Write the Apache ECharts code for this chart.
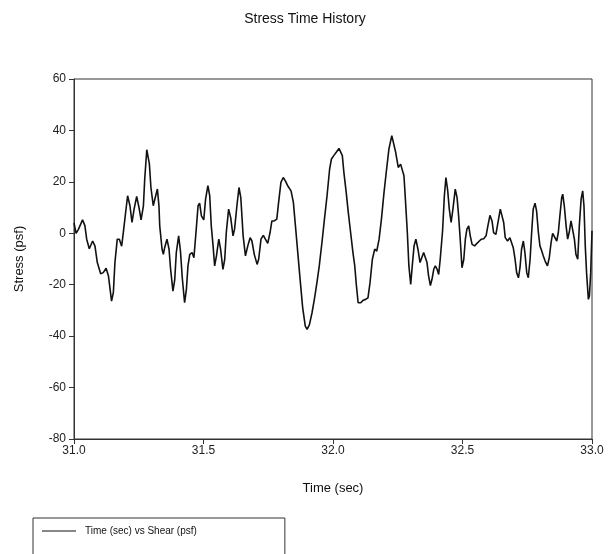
<!DOCTYPE html>
<html>
<head>
<meta charset="utf-8">
<script src="https://cdn.jsdelivr.net/npm/echarts@6/dist/echarts.min.js"></script>
<style>
html,body{margin:0;padding:0;background:#fff;}
#chart{width:610px;height:554px;}
</style>
</head>
<body>
<div id="chart"></div>
<script>
const titleText = "Stress Time History";
const xAxisName = "Time (sec)";
const yAxisName = "Stress (psf)";
const seriesName = "Time (sec) vs Shear (psf)";

const timeSec = [
31.000,31.008,31.017,31.033,31.042,31.049,31.059,31.072,31.081,31.090,31.103,31.113,31.124,31.133,31.145,31.152,31.158,31.167,31.175,31.184,31.190,31.199,31.207,31.216,31.224,31.232,31.242,31.251,31.259,31.268,31.273,31.281,31.284,31.291,31.297,31.306,31.314,31.322,
31.328,31.331,31.340,31.345,31.350,31.359,31.367,31.373,31.382,31.389,31.395,31.404,31.411,31.418,31.427,31.434,31.440,31.447,31.456,31.463,31.472,31.479,31.485,31.492,31.501,31.508,31.517,31.524,31.530,31.537,31.543,31.550,31.559,31.566,31.575,31.582,31.588,31.597,31.605,31.614,31.620,31.629,31.637,31.644,31.653,31.662,
31.671,31.680,31.687,31.696,31.707,31.713,31.722,31.731,31.739,31.748,31.757,31.764,31.773,31.783,31.790,31.799,31.808,31.816,31.825,31.838,31.847,31.855,31.864,31.873,31.883,31.893,31.900,31.909,31.919,31.928,31.938,31.947,31.958,31.967,31.977,31.987,31.994,32.003,
32.014,32.023,32.030,32.036,32.042,32.051,32.059,32.068,32.077,32.084,32.090,32.097,32.107,32.117,32.126,32.135,32.143,32.152,32.161,32.169,32.178,32.187,32.197,32.207,32.216,32.227,32.233,32.242,32.252,32.261,32.268,32.274,32.281,32.287,32.293,32.300,32.306,32.313,32.320,32.328,32.336,
32.350,32.357,32.363,32.369,32.376,32.382,32.389,32.395,32.402,32.408,32.414,32.423,32.430,32.436,32.443,32.449,32.456,32.463,32.472,32.479,32.485,32.492,32.498,32.505,32.511,32.517,32.524,32.530,32.537,32.547,32.556,32.565,32.573,32.582,32.591,32.598,32.606,32.614,32.620,32.629,32.637,32.646,32.653,32.659,32.665,32.674,
32.683,32.690,32.696,32.703,32.709,32.716,32.722,32.728,32.735,32.741,32.748,32.754,32.761,32.767,32.773,32.780,32.786,32.793,32.799,32.806,32.812,32.819,32.828,32.835,32.842,32.848,32.855,32.864,32.870,32.876,32.883,32.887,32.893,32.900,32.906,32.913,32.919,32.925,32.932,32.938,32.945,32.951,32.958,32.964,32.969,32.974,32.979,32.986,32.990,32.995,33.000
];

const stressPsf = [
4,0,1.5,5.2,3,-2.3,-6,-3,-5,-11.4,-15.7,-15.3,-13.6,-16.6,-26.4,-23,-11.4,-2.3,-2.3,-5,0,7.8,14.6,10.7,4.2,9.4,14.3,10,5.2,10.7,21,32.5,33,27,17.8,10.7,14,17.2,
10.7,2.9,-6.2,-8.2,-5.6,-2.3,-6.2,-14,-22.5,-18,-7.5,-1,-6.9,-17.3,-27,-21.8,-12.7,-8.2,-7.5,-9.5,1.6,10.7,11.7,6.8,5.2,13.3,18.5,14.6,2.9,-4.9,-12.7,-8.8,-2.3,-6.2,-14,-10.1,0.3,9.4,6.1,-1,1.6,10.7,17.8,13.9,-1,-8.8,
-4.9,-1.7,-3,-8.2,-12.1,-10.1,-2.3,-0.8,-2.3,-3.9,0.3,4.8,4.8,5.5,12,19.8,21.7,20.4,18.5,16.5,12,2.9,-7.5,-17.9,-29,-36.1,-37.4,-35.5,-30.9,-25.7,-19.2,-12.7,-3,5.5,14.6,25,28.9,30.2,
31.7,33,33.4,30.2,23.7,15.9,8.1,0.3,-7.5,-12.7,-19.9,-27,-27,-26,-25.7,-25.1,-19.2,-10.1,-6.2,-6.9,-2.3,5.5,15.9,25,32.8,38,37.3,31.5,25.6,26.9,27.6,22.4,10.7,0.3,-12.7,-19.9,-12.7,-4.9,-2.3,-6.2,-11.4,
-7.5,-7.3,-11.4,-16.6,-20.3,-18,-14,-12.7,-14,-16,-10.1,0.9,14.6,21.7,16.5,9.4,4.2,9.4,17.2,13.9,6.8,-3.6,-13.4,-10.1,-2.3,1.6,2.9,-1,-4.3,-4.9,-3.9,-3,-2.3,-2.1,-1,2.9,7,4.8,0.3,-0.4,4.2,9.4,9.4,4.2,-1.7,-3,
-1.7,-2.3,-5.6,-10.1,-15.3,-17.3,-13.4,-6.2,-3,-7.5,-15.3,-17.3,-10.1,0.3,9.4,11.7,8.7,0.3,-4.9,-6.9,-8.8,-10.8,-12.7,-9.5,-3.6,0,-0.4,-3,0.3,6.8,13.9,15.2,10.7,2.9,-2.3,0.9,4.8,4.2,-2.3,-8.2,-10.1,2.9,13.3,16.5,10.7,-4.9,-15.3,-25.7,-24.4,-15.3,1
];

const xMin = 31, xMax = 33, xStep = 0.5;
const yMin = -80, yMax = 60, yStep = 20;

const seriesData = timeSec.map((t, i) => [t, stressPsf[i]]);

const font = "'Liberation Sans', Arial, sans-serif";
const chart = echarts.init(document.getElementById('chart'), null, {renderer: 'canvas'});
chart.setOption({
  animation: false,
  backgroundColor: '#fff',
  title: {
    text: titleText,
    left: 'center',
    top: 7,
    textStyle: {fontFamily: font, fontSize: 14, fontWeight: 'normal', color: '#111'}
  },
  grid: {
    left: 74, right: 18, top: 79, bottom: 115,
    show: true, borderColor: '#333', borderWidth: 1, backgroundColor: 'transparent'
  },
  legend: {
    left: 33, top: 518,
    orient: 'horizontal',
    borderColor: '#333', borderWidth: 1,
    borderRadius: 0,
    padding: [8, 88, 20, 9],
    itemWidth: 34, itemHeight: 1,
    itemGap: 10,
    textStyle: {fontFamily: font, fontSize: 10, color: '#111', padding: [0, 0, 0, 4]},
    data: [{name: seriesName, icon: 'rect'}]
  },
  xAxis: {
    type: 'value',
    min: xMin, max: xMax, interval: xStep,
    name: xAxisName,
    nameLocation: 'middle',
    nameGap: 43,
    nameTextStyle: {fontFamily: font, fontSize: 13, color: '#111'},
    axisLine: {show: true, onZero: false, lineStyle: {color: '#333', width: 1}},
    axisTick: {show: true, inside: false, length: 5, lineStyle: {color: '#333'}},
    axisLabel: {fontFamily: font, fontSize: 12, color: '#222', margin: 6,
      formatter: v => v.toFixed(1)},
    splitLine: {show: false}
  },
  yAxis: {
    type: 'value',
    min: yMin, max: yMax, interval: yStep,
    name: yAxisName,
    nameLocation: 'middle',
    nameGap: 48,
    nameTextStyle: {fontFamily: font, fontSize: 13, color: '#111'},
    axisLine: {show: true, onZero: false, lineStyle: {color: '#333', width: 1}},
    axisTick: {show: true, inside: false, length: 5, lineStyle: {color: '#333'}},
    axisLabel: {fontFamily: font, fontSize: 12, color: '#222', margin: 8},
    splitLine: {show: false}
  },
  series: [{
    name: seriesName,
    type: 'line',
    data: seriesData,
    showSymbol: false,
    symbol: 'none',
    smooth: false,
    lineStyle: {color: '#111', width: 1.6},
    itemStyle: {color: '#111'}
  }]
});
</script>
</body>
</html>
